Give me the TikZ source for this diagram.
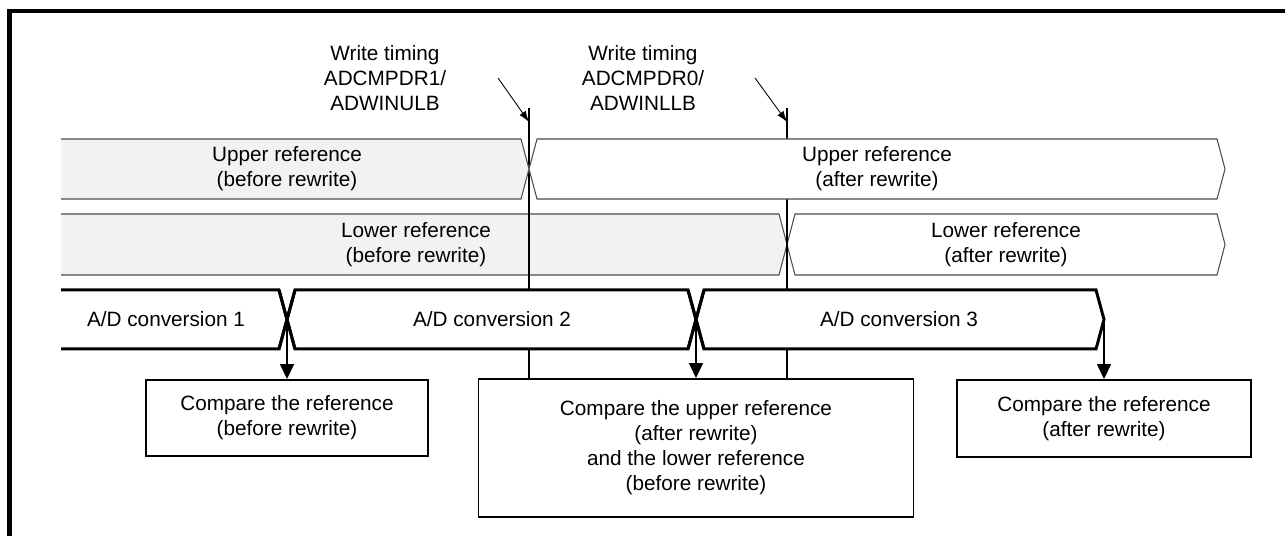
\documentclass[tikz,border=0pt]{standalone}
\usepackage{fontspec}
\setmainfont{Liberation Sans}
\usetikzlibrary{arrows.meta, positioning, calc}
\tikzset{
  lbl/.style     = {align=center, font=\fontsize{11.8}{14.2}\selectfont, inner sep=0pt},
  cmpbox/.style  = {lbl, draw, line width=1.1pt, fill=white},
  refold/.style  = {draw=black!70, line width=0.6pt, fill=black!5},
  refnew/.style  = {draw=black!70, line width=0.6pt, fill=white},
  adband/.style  = {draw=black, line width=1.7pt, fill=white, line join=miter},
  wline/.style   = {draw=black, line width=0.6pt},
  tick/.style    = {-{Latex[length=2.2mm,width=1.5mm]}, line width=0.5pt},
  flow/.style    = {-{Triangle[length=3mm,width=2.8mm]}, line width=0.9pt}
}
\begin{document}
\begin{tikzpicture}
\useasboundingbox (0,0) rectangle (25.7,10.72);
% frame (cut at right and bottom)
\draw[line width=2.3pt] (0.19,0) -- (0.19,10.50) -- (25.7,10.50);

% write timing labels
\node[lbl] (wt1) at (7.70,9.16) {Write timing\\ADCMPDR1/\\ADWINULB};
\node[lbl] (wt2) at (12.86,9.16) {Write timing\\ADCMPDR0/\\ADWINLLB};
\coordinate (wt1tail) at (9.96,9.16);
\coordinate (wt1tip)  at (10.58,8.28);
\coordinate (wt2tail) at (15.10,9.16);
\coordinate (wt2tip)  at (15.74,8.28);
\draw[tick] (wt1tail) -- (wt1tip);
\draw[tick] (wt2tail) -- (wt2tip);

% compare boxes
\node[cmpbox, minimum width=5.64cm, minimum height=1.52cm] at (5.74,2.36) (cmp1)
  {Compare the reference\\(before rewrite)};
\node[cmpbox, minimum width=8.70cm, minimum height=2.76cm] at (13.92,1.76) (cmp2)
  {Compare the upper reference\\(after rewrite)\\and the lower reference\\(before rewrite)};
\node[cmpbox, minimum width=5.88cm, minimum height=1.54cm] at (22.08,2.35) (cmp3)
  {Compare the reference\\(after rewrite)};

% lower reference row
\filldraw[refold] (1.22,6.44) -- (15.58,6.44) -- (15.74,5.83) -- (15.58,5.22) -- (1.22,5.22);
\filldraw[refnew] (15.74,5.83) -- (15.90,6.44) -- (24.34,6.44) -- (24.50,5.83)
  -- (24.34,5.22) -- (15.90,5.22) -- cycle;

% write timing lines
\coordinate (wt1top) at (10.58,8.56);
\coordinate (wt2top) at (15.74,8.56);
\draw[wline] (wt1top) -- (wt1top |- cmp2.north);
\draw[wline] (wt2top) -- (wt2top |- cmp2.north);

% upper reference row
\filldraw[refold] (1.22,7.94) -- (10.42,7.94) -- (10.58,7.34) -- (10.42,6.74) -- (1.22,6.74);
\filldraw[refnew] (10.58,7.34) -- (10.74,7.94) -- (24.34,7.94) -- (24.50,7.34)
  -- (24.34,6.74) -- (10.74,6.74) -- cycle;

\node[lbl] (upold) at (5.74,7.34)  {Upper reference\\(before rewrite)};
\node[lbl] (upnew) at (17.54,7.34) {Upper reference\\(after rewrite)};
\node[lbl] (loold) at (8.32,5.83)  {Lower reference\\(before rewrite)};
\node[lbl] (lonew) at (20.12,5.83) {Lower reference\\(after rewrite)};

% A/D conversion row
\filldraw[adband] (1.22,4.92) -- (5.58,4.92) -- (5.74,4.33) -- (5.58,3.74) -- (1.22,3.74);
\filldraw[adband] (5.74,4.33) -- (5.90,4.92) -- (13.76,4.92) -- (13.92,4.33)
  -- (13.76,3.74) -- (5.90,3.74) -- cycle;
\filldraw[adband] (13.92,4.33) -- (14.08,4.92) -- (21.92,4.92) -- (22.08,4.33)
  -- (21.92,3.74) -- (14.08,3.74) -- cycle;
\draw[line width=1.7pt] (5.58,4.92) -- (5.90,3.74);
\draw[line width=1.7pt] (5.58,3.74) -- (5.90,4.92);
\draw[line width=1.7pt] (13.76,4.92) -- (14.08,3.74);
\draw[line width=1.7pt] (13.76,3.74) -- (14.08,4.92);

\node[lbl] (ad1) at (3.32,4.33)  {A/D conversion 1};
\node[lbl] (ad2) at (9.84,4.33)  {A/D conversion 2};
\node[lbl] (ad3) at (17.98,4.33) {A/D conversion 3};

% conversion end -> compare
\coordinate (end1) at (5.74,4.33);
\coordinate (end2) at (13.92,4.33);
\coordinate (end3) at (22.08,4.33);
\draw[flow] (end1) -- (cmp1.north);
\draw[flow] (end2) -- (cmp2.north);
\draw[flow] (end3) -- (cmp3.north);
\end{tikzpicture}
\end{document}
